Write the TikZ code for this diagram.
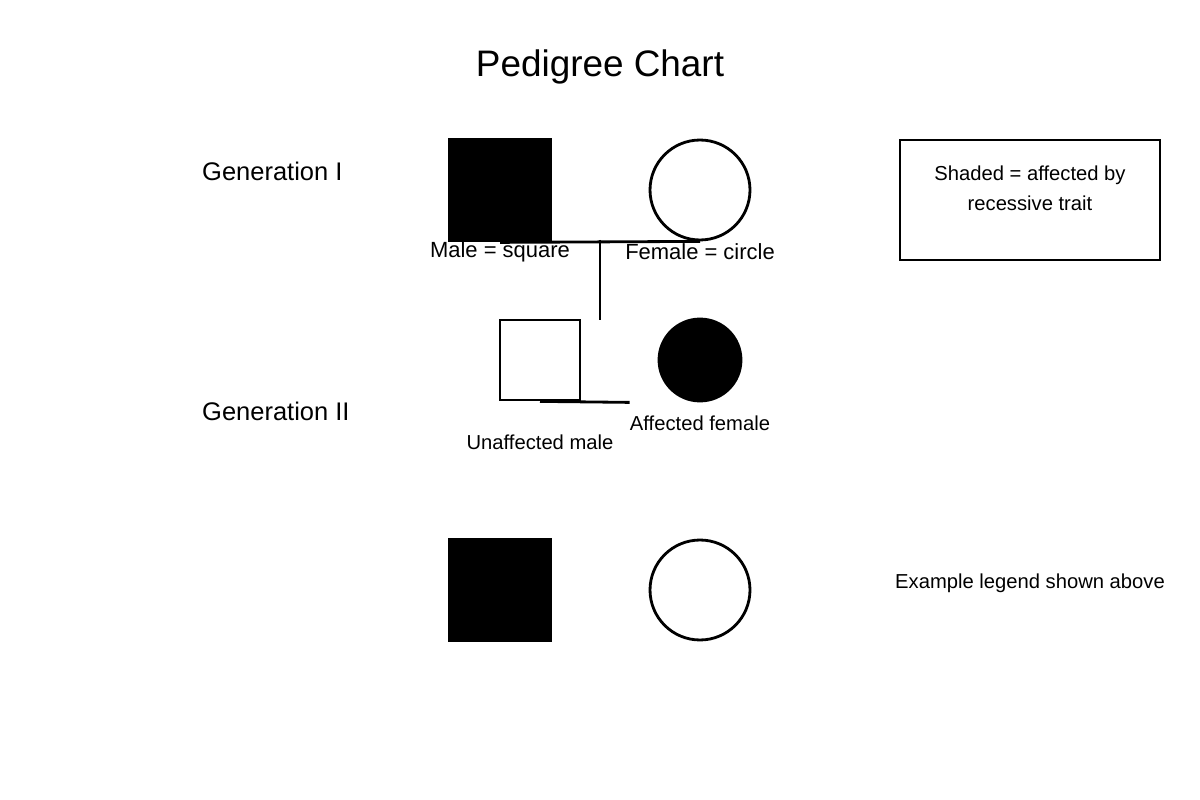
\documentclass[tikz,border=0pt]{standalone}
\usepackage{fontspec}
\setmainfont{Liberation Sans}
\begin{document}
\begin{tikzpicture}[x=0.02cm, y=-0.02cm,
male/.style={draw, line width=1.6pt, minimum size=2cm, inner sep=0pt},
female/.style={draw, circle, line width=1.6pt, minimum size=2cm, inner sep=0pt},
lbl/.style={font=\fontsize{12.5}{15}\selectfont},
small/.style={font=\fontsize{11.5}{17}\selectfont, align=center},
gen/.style={font=\fontsize{14.5}{17}\selectfont, anchor=west},
link/.style={line width=1.6pt}]
\useasboundingbox (0,0) rectangle (1200,800);
\node[font=\fontsize{21}{25}\selectfont] (title) at (600,67) {Pedigree Chart};
% generation I
\node[gen] (g1) at (196,171) {Generation I};
\node[male, fill=black, minimum size=2.04cm] (father) at (500,190) {};
\node[female] (mother) at (700,190) {};
\coordinate (mate1) at (600,240);
\coordinate (kids) at (600,320);
\draw[link] (father.south) -- (mother.south);
\draw[link] (mate1) -- (kids);
\node[lbl] (mlbl) at (500,252) {Male = square};
\node[lbl] (flbl) at (700,252) {Female = circle};
\node[draw, line width=1pt, minimum width=5.2cm, minimum height=2.4cm] (key) at (1030,200) {};
\node[small] (keytxt) at (1030,188) {Shaded = affected by\\recessive trait};
% generation II
\node[gen] (g2) at (196,411) {Generation II};
\node[male, minimum size=1.6cm] (son) at (540,360) {};
\node[female, fill=black, minimum size=1.64cm] (daughter) at (700,360) {};
\draw[link] (son.south) -- ([xshift=-40]daughter.south);
\node[small] (sonlbl) at (540,442) {Unaffected male};
\node[small] (daulbl) at (700,423) {Affected female};
% legend row
\node[male, fill=black, minimum size=2.04cm] (lmale) at (500,590) {};
\node[female] (lfemale) at (700,590) {};
\node[small] (ltxt) at (1030,583) {Example legend shown above};
\end{tikzpicture}
\end{document}
